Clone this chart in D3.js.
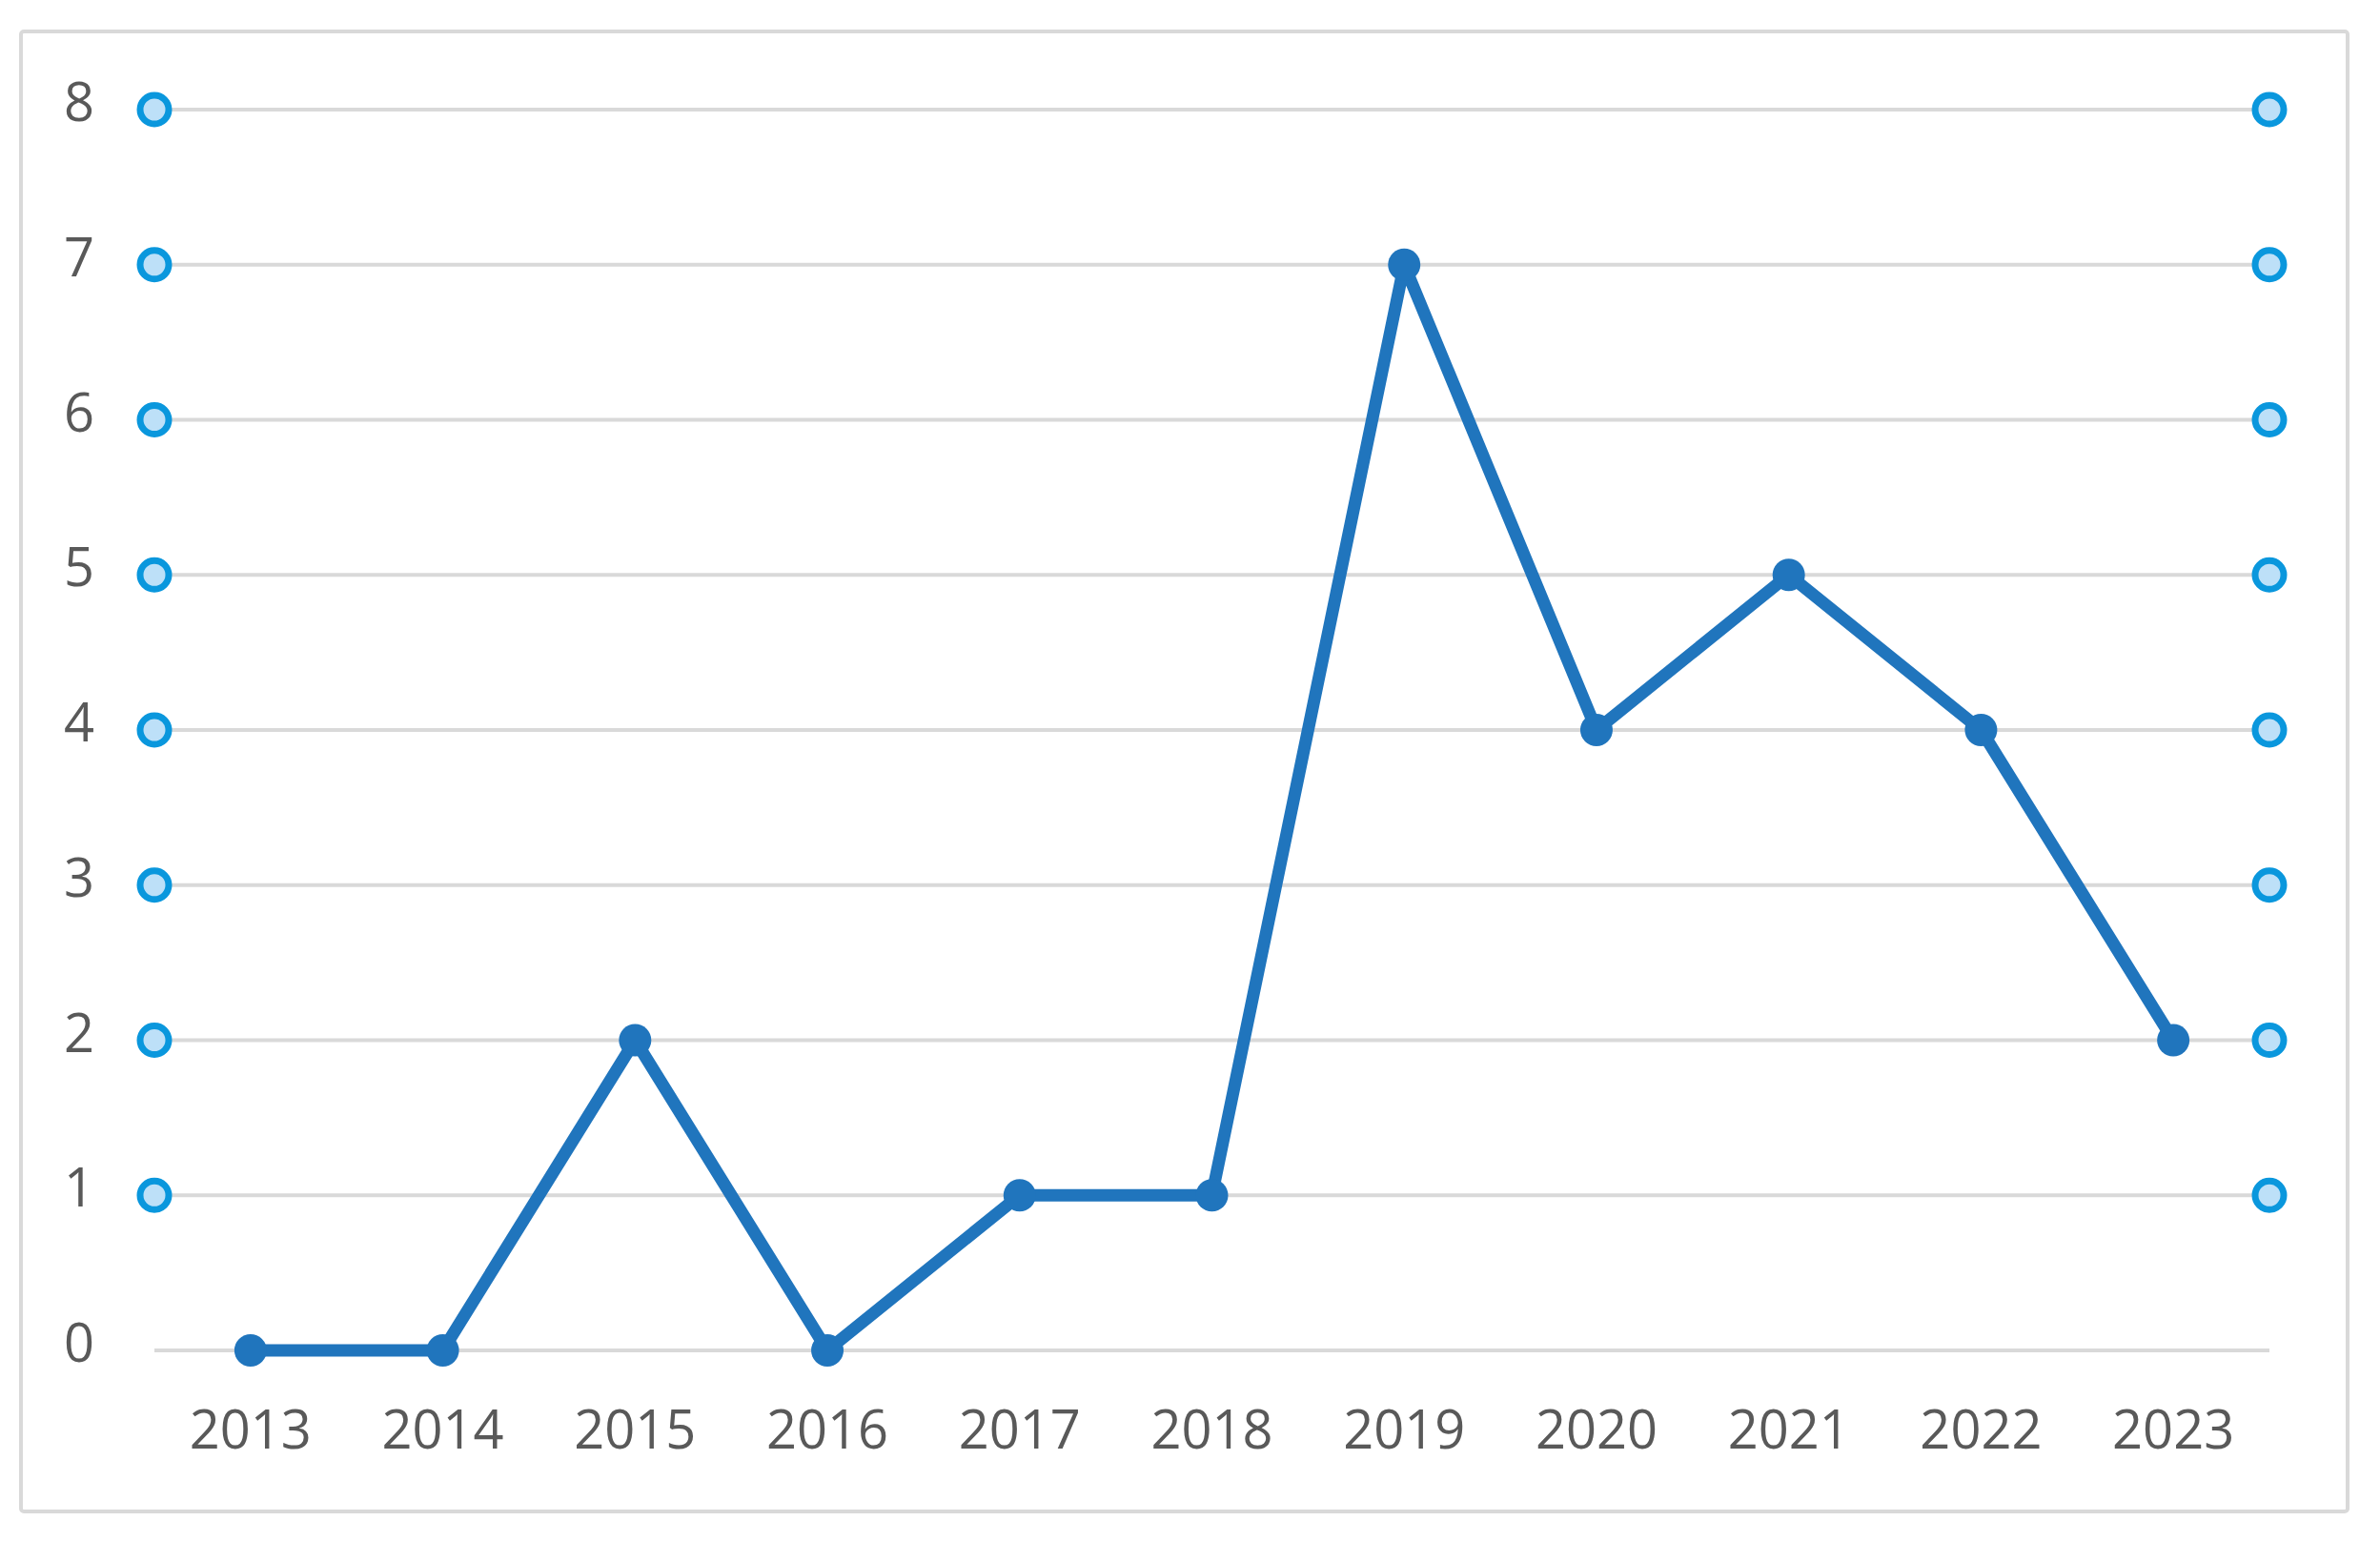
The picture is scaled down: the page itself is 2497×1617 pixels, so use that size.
<!DOCTYPE html>
<html>
<head>
<meta charset="utf-8">
<script src="https://cdn.jsdelivr.net/npm/d3@7"></script>
<style>
  body { margin: 0; background: #fff; }
  text { font-family: "Open Sans", "Noto Sans", sans-serif; fill: #595959; }
</style>
</head>
<body>
<svg id="chart"></svg>
<script>
// data
var years = ["2013", "2014", "2015", "2016", "2017", "2018", "2019", "2020", "2021", "2022", "2023"];
var counts = [0, 0, 2, 0, 1, 1, 7, 4, 5, 4, 2];
var yTicks = [0, 1, 2, 3, 4, 5, 6, 7, 8];

var W = 2497, H = 1617;
var plot = {left: 162, right: 2381, top: 115, bottom: 1417};

var svg = d3.select("#chart").attr("width", W).attr("height", H);

// outer frame
svg.append("rect")
  .attr("x", 22).attr("y", 33)
  .attr("width", 2441).attr("height", 1553)
  .attr("rx", 3)
  .attr("fill", "#fff")
  .attr("stroke", "#d9d9d9")
  .attr("stroke-width", 4);

var x = d3.scalePoint().domain(years).range([plot.left, plot.right]).padding(0.5);
var y = d3.scaleLinear().domain([0, 8]).range([plot.bottom, plot.top]);

// gridlines
svg.append("g").selectAll("line")
  .data(yTicks)
  .enter().append("line")
  .attr("x1", plot.left).attr("x2", plot.right)
  .attr("y1", function(d) { return y(d); })
  .attr("y2", function(d) { return y(d); })
  .attr("stroke", "#d9d9d9")
  .attr("stroke-width", 4);

// y labels
svg.append("g").selectAll("text")
  .data(yTicks)
  .enter().append("text")
  .attr("x", 83)
  .attr("y", function(d) { return y(d) - 10; })
  .attr("text-anchor", "middle")
  .attr("dominant-baseline", "central")
  .attr("font-size", 56)
  .text(function(d) { return d; });

// x labels
svg.append("g").selectAll("text")
  .data(years)
  .enter().append("text")
  .attr("x", function(d) { return x(d); })
  .attr("y", 1520)
  .attr("text-anchor", "middle")
  .attr("font-size", 56)
  .text(function(d) { return d; });

// open circle markers at both ends of each gridline (except 0)
var ends = [];
yTicks.filter(function(d) { return d > 0; }).forEach(function(d) {
  ends.push([plot.left, d]);
  ends.push([plot.right, d]);
});
svg.append("g").selectAll("circle")
  .data(ends)
  .enter().append("circle")
  .attr("cx", function(d) { return d[0]; })
  .attr("cy", function(d) { return y(d[1]); })
  .attr("r", 15)
  .attr("fill", "#bde0f8")
  .attr("stroke", "#0a97dd")
  .attr("stroke-width", 7);

// the series
var line = d3.line()
  .x(function(d, i) { return x(years[i]); })
  .y(function(d) { return y(d); });

svg.append("path")
  .datum(counts)
  .attr("d", line)
  .attr("fill", "none")
  .attr("stroke", "#2075bd")
  .attr("stroke-width", 13)
  .attr("stroke-linejoin", "round");

svg.append("g").selectAll("circle")
  .data(counts)
  .enter().append("circle")
  .attr("cx", function(d, i) { return x(years[i]); })
  .attr("cy", function(d) { return y(d); })
  .attr("r", 17)
  .attr("fill", "#2075bd");
</script>
</body>
</html>
